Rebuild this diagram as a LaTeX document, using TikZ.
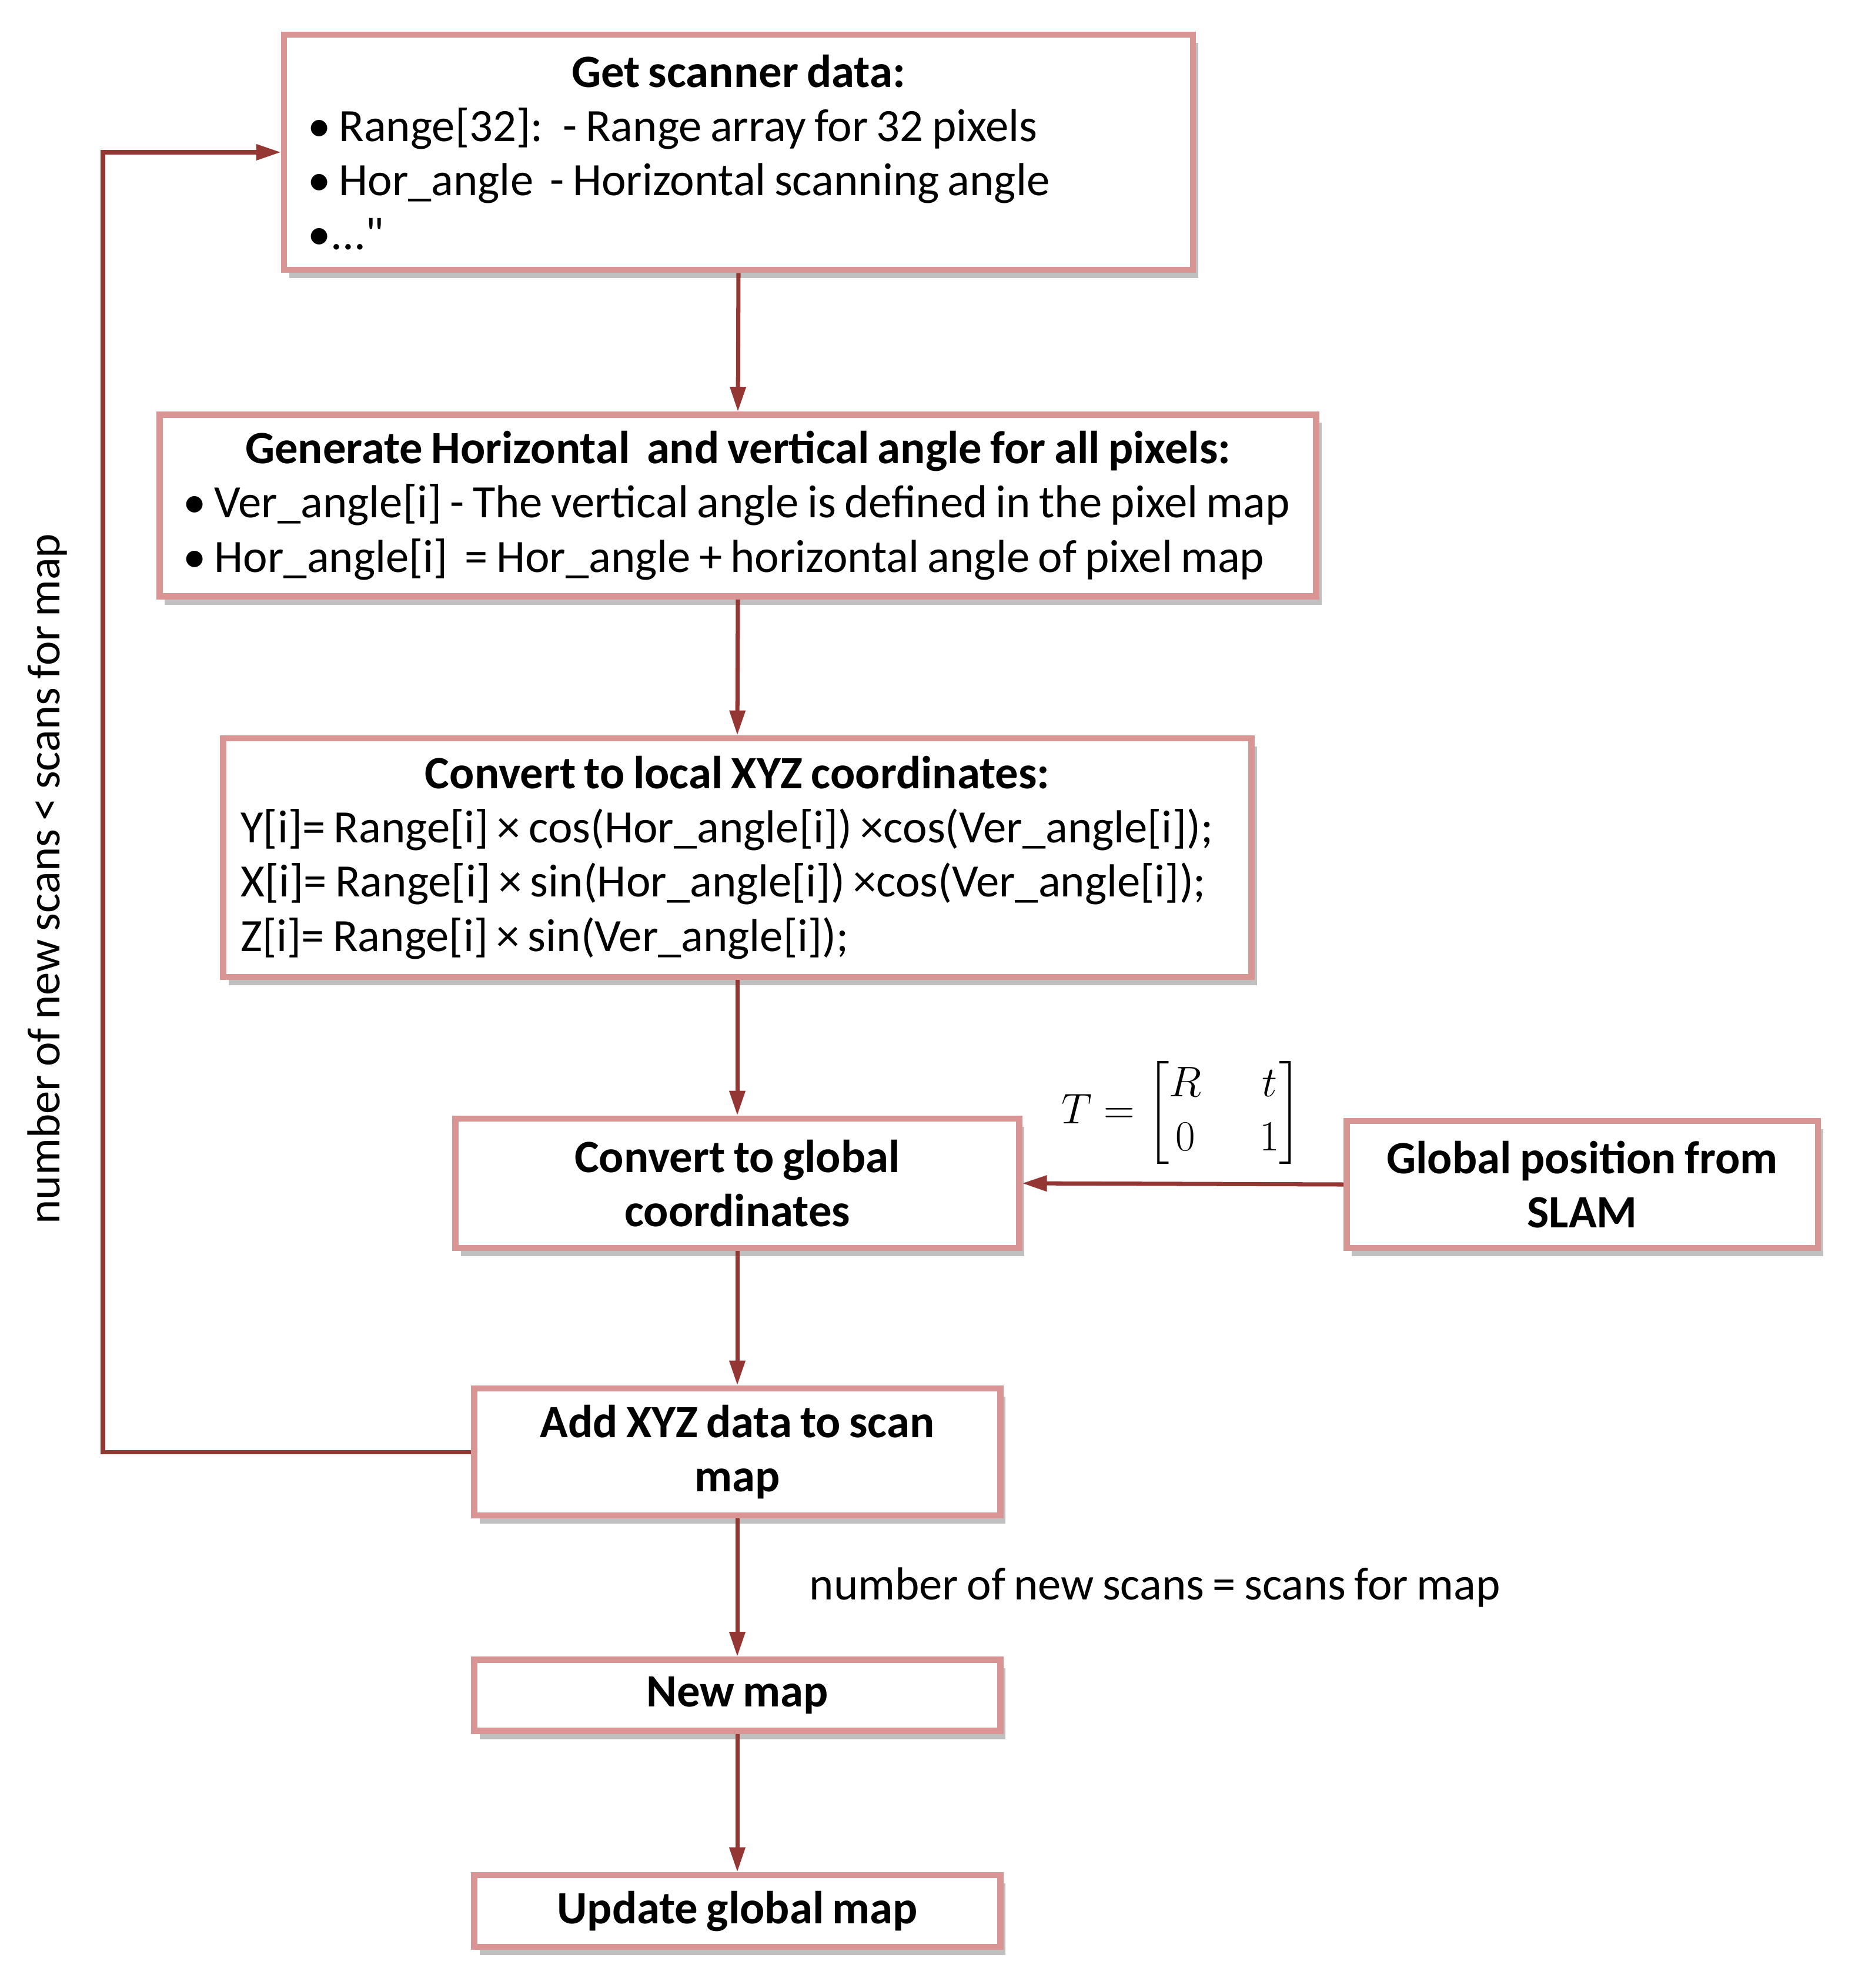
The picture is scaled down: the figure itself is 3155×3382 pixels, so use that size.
\documentclass[tikz,border=0pt]{standalone}
\usepackage{fontspec}
\setmainfont{Carlito}[WordSpace={0.8,0.3,0.3}]
\usepackage{amsmath}
\usetikzlibrary{arrows.meta,shadows}
\definecolor{boxline}{RGB}{217,149,148}
\definecolor{arrowred}{RGB}{148,54,52}
\newcommand{\boxfont}{\fontsize{22.4}{26.2}\selectfont}
\tikzset{
  box/.style={draw=boxline, line width=3pt, fill=white, inner xsep=0.4cm, inner ysep=0pt,
    drop shadow={shadow xshift=0.09cm, shadow yshift=-0.14cm, opacity=0.45, fill=black!55},
    font=\boxfont},
  boldbox/.style={box, font=\boxfont\bfseries},
  flow/.style={draw=arrowred, line width=2pt, -{Triangle[length=0.42cm,width=0.26cm]}},
  lbl/.style={font=\boxfont, inner sep=0pt},
}
\begin{document}
\begin{tikzpicture}[x=0.01cm,y=-0.01cm]
\useasboundingbox (0,0) rectangle (3155,3382);

\node[box, minimum width=15.45cm, minimum height=4.0cm, text width=14.65cm, align=flush left] (b1) at (1256,259)
  {{\centering\bfseries Get scanner data:\par}
   • Range[32]:~ - Range array for 32 pixels\\
   • Hor\_angle~ - Horizontal scanning angle\\
   •...\textquotedbl};

\node[box, minimum width=19.66cm, minimum height=3.09cm, text width=18.86cm, align=flush left] (b2) at (1255,860)
  {{\centering\bfseries Generate Horizontal~ and vertical angle for all pixels:\par}
   \mbox{• Ver\_angle[i] - The vertical angle is defined in the pixel map}\\
   \mbox{• Hor\_angle[i]~ = Hor\_angle + horizontal angle of pixel map}};

\node[box, inner xsep=0.3cm, minimum width=17.48cm, minimum height=4.06cm, text width=16.88cm, align=flush left] (b3) at (1254,1459)
  {{\centering\bfseries Convert to local XYZ coordinates:\par}
   Y[i]= Range[i] × cos(Hor\_angle[i]) ×cos(Ver\_angle[i]);\\
   X[i]= Range[i] × sin(Hor\_angle[i]) ×cos(Ver\_angle[i]);\\
   Z[i]= Range[i] × sin(Ver\_angle[i]);};

\node[boldbox, minimum width=9.58cm, minimum height=2.2cm, align=center] (b4) at (1254,2013)
  {Convert to global\\coordinates};

\node[boldbox, minimum width=8.01cm, minimum height=2.16cm, align=center] (b5) at (2691,2015)
  {Global position from\\SLAM};

\node[boldbox, minimum width=8.94cm, minimum height=2.16cm, align=center] (b6) at (1254,2470)
  {Add XYZ data to scan\\map};

\node[boldbox, minimum width=8.94cm, minimum height=1.21cm] (b7) at (1254,2884)
  {New map};

\node[boldbox, minimum width=8.94cm, minimum height=1.22cm] (b8) at (1254,3251)
  {Update global map};

\coordinate (lp) at (175,1500);

\draw[flow] (b1.south) -- (b2.north);
\draw[flow] (b2.south) -- (b3.north);
\draw[flow] (b3.south) -- (b4.north);
\draw[flow] (b4.south) -- (b6.north);
\draw[flow] (b6.south) -- (b7.north);
\draw[flow] (b7.south) -- (b8.north);
\draw[flow] (b5.west) -- (b4.east);
\draw[flow] (b6.west) -- (b6.west -| lp) -- (b1.west -| lp) -- (b1.west);

\node[lbl, rotate=90] (loopl) at (80,1495) {number of new scans < scans for map};
\node[lbl, anchor=west] (donel) at (1376,2700) {number of new scans = scans for map};
\node[lbl] (tmat) at (2010,1893) {\setlength{\arraycolsep}{14pt}$T=\begin{bmatrix}R & t\\ 0 & 1\end{bmatrix}$};
\end{tikzpicture}
\end{document}
